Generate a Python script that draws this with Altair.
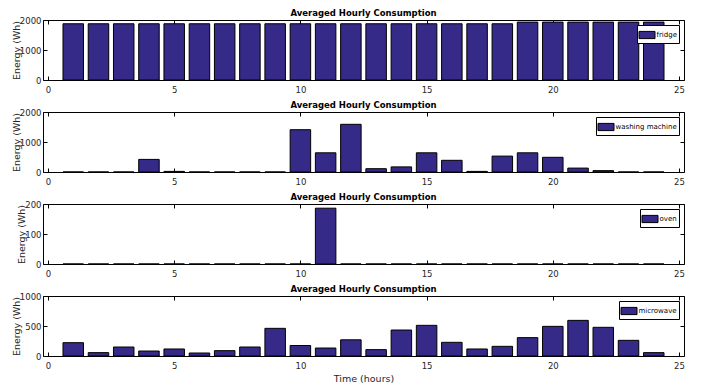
import altair as alt
import pandas as pd

hours = list(range(1, 25))
x_ticks = [0, 5, 10, 15, 20, 25]

fridge = [1875, 1875, 1875, 1875, 1875, 1875, 1875, 1875, 1875, 1875, 1875, 1875,
          1875, 1875, 1875, 1875, 1875, 1875, 1930, 1930, 1930, 1930, 1930, 1930]
washing = [0, 0, 0, 420, 20, 0, 0, 0, 0, 1410, 640, 1590,
           110, 170, 640, 390, 20, 530, 640, 490, 130, 45, 0, 0]
oven = [0, 0, 0, 0, 0, 0, 0, 0, 0, 0, 186, 0,
        0, 0, 0, 0, 0, 0, 0, 0, 0, 0, 0, 0]
microwave = [222, 56, 150, 83, 117, 50, 89, 150, 461, 175, 133, 270,
             106, 433, 511, 228, 117, 161, 306, 494, 594, 478, 261, 56]

panels_spec = [
    ("fridge", fridge, 2000, [0, 1000, 2000]),
    ("washing machine", washing, 2000, [0, 1000, 2000]),
    ("oven", oven, 200, [0, 100, 200]),
    ("microwave", microwave, 1000, [0, 500, 1000]),
]

BAR = "#352A87"
TITLE = "Averaged Hourly Consumption"


def panel(name, values, ymax, yticks, last):
    df = pd.DataFrame({"hour": hours, "energy": values, "appliance": name})
    base = alt.Chart(df)
    xs = alt.Scale(domain=[0, 25], nice=False, zero=False)
    ys = alt.Scale(domain=[0, ymax], nice=False)

    bars = base.mark_bar(size=20.5, stroke="black", strokeWidth=1).encode(
        x=alt.X("hour:Q", scale=xs,
                axis=alt.Axis(values=x_ticks, ticks=False, domain=False, grid=False,
                              labelPadding=5, labelFlush=False, format="d",
                              title="Time (hours)" if last else None, titlePadding=4)),
        y=alt.Y("energy:Q", scale=ys,
                axis=alt.Axis(values=yticks, ticks=False, domain=False, grid=False,
                              labelPadding=2, labelFlush=False, format="d",
                              title="Energy (Wh)", titlePadding=-2)),
        color=alt.Color("appliance:N",
                        scale=alt.Scale(domain=[name], range=[BAR]),
                        legend=alt.Legend(title=None, orient="top-right", offset=5,
                                          padding=1.5, strokeColor="black", fillColor="white",
                                          symbolType="M-1,-0.45H1V0.45H-1Z", symbolSize=256,
                                          symbolStrokeColor="black", symbolStrokeWidth=1,
                                          symbolOpacity=1,
                                          labelFont="DejaVu Sans", labelFontSize=7,
                                          labelColor="black", labelOffset=1)),
    )

    def tick_layer(xo, yo):
        return base.mark_bar(opacity=0).encode(
            x=alt.X("hour:Q", scale=xs,
                    axis=alt.Axis(orient=xo, values=x_ticks, labels=False, ticks=True,
                                  tickSize=4, offset=-4, domain=False, grid=False,
                                  title=None, tickColor="black")),
            y=alt.Y("energy:Q", scale=ys,
                    axis=alt.Axis(orient=yo, values=yticks, labels=False, ticks=True,
                                  tickSize=4, offset=-4, domain=False, grid=False,
                                  title=None, tickColor="black")),
        )

    return alt.layer(bars, tick_layer("bottom", "left"), tick_layer("top", "right")).resolve_axis(
        x="independent", y="independent"
    ).properties(
        width=641, height=60,
        title=alt.TitleParams(TITLE, anchor="middle", offset=-1),
    )


charts = [panel(n, v, m, t, i == len(panels_spec) - 1) for i, (n, v, m, t) in enumerate(panels_spec)]

chart = alt.vconcat(*charts, spacing=32, bounds="flush").resolve_scale(
    color="independent"
).resolve_legend(color="independent").properties(
    padding={"left": 2, "top": 0, "right": 5, "bottom": 5}
).configure_view(
    stroke="black", strokeWidth=1
).configure_axis(
    labelFont="DejaVu Sans", labelFontSize=8.5, labelColor="#262626",
    titleFont="DejaVu Sans", titleFontSize=9.5, titleFontWeight="normal", titleColor="#262626",
).configure_title(
    font="DejaVu Sans", fontSize=8.5, fontWeight="bold", color="black"
)

chart.save("out.html", embed_options={"renderer": "svg", "actions": False})
